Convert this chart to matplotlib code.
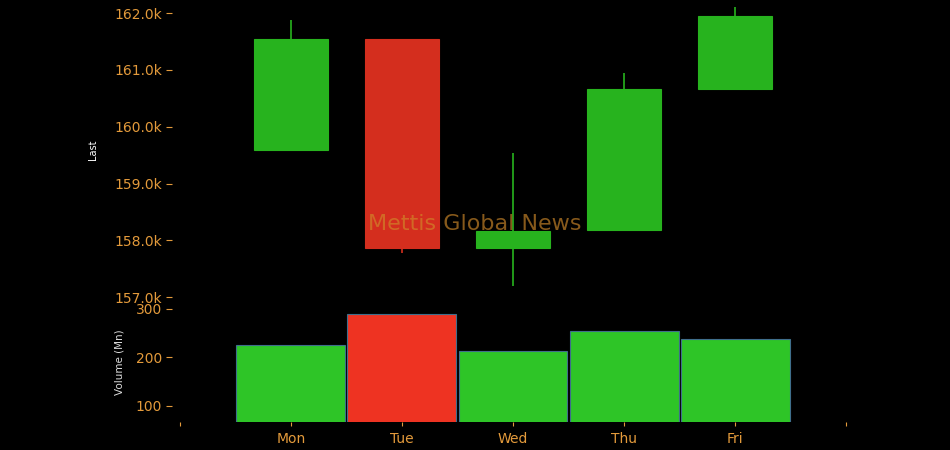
import numpy as np
import matplotlib.pyplot as plt

# Daily OHLC (price in thousands) and volume (Mn)
days = ['Mon', 'Tue', 'Wed', 'Thu', 'Fri']
opens = [159.59, 161.54, 157.86, 158.18, 160.66]
highs = [161.88, 161.54, 159.54, 160.94, 162.11]
lows = [159.59, 157.77, 157.19, 158.18, 160.66]
closes = [161.54, 157.86, 158.16, 160.66, 161.95]
volume = [225, 289, 214, 254, 237]

bg = 'black'
tick_col = '#E39A3B'
up_col, down_col = '#27B31E', '#D42E1E'
vup_col, vdown_col = '#2EC527', '#EE3322'

fig = plt.figure(figsize=(9.5, 4.5), dpi=100, facecolor=bg)
ax_p = fig.add_axes([172 / 950, 150 / 450, 682 / 950, 300 / 450], facecolor=bg)
ax_v = fig.add_axes([172 / 950, 28 / 450, 682 / 950, 120 / 450], facecolor=bg, sharex=ax_p)

x = np.arange(len(days))
o, h, l, c = map(np.array, (opens, highs, lows, closes))
colors = [up_col if cc >= oo else down_col for oo, cc in zip(o, c)]

# candles
ax_p.vlines(x, l, h, colors=colors, linewidth=1.2, zorder=2)
ax_p.bar(x, np.abs(c - o), bottom=np.minimum(o, c), width=0.66,
         color=colors, edgecolor=colors, linewidth=0.8, zorder=3)
ax_p.set_ylim(156.95, 162.23)
ax_p.set_yticks([157, 158, 159, 160, 161, 162])
ax_p.set_yticklabels([f'{v:.1f}k' for v in [157, 158, 159, 160, 161, 162]])
ax_p.set_ylabel('Last', color='white', fontsize=7, labelpad=12)

# volume bars
vcolors = [vup_col if cc >= oo else vdown_col for oo, cc in zip(o, c)]
ax_v.bar(x, volume, width=0.98, color=vcolors, edgecolor='#3F6E8C', linewidth=0.8)
ax_v.set_ylim(67, 314)
ax_v.set_yticks([100, 200, 300])
ax_v.set_ylabel('Volume (Mn)', color='#DDDDDD', fontsize=7.5, labelpad=8)

ax_v.set_xlim(-1.07, 5.07)
ax_v.set_xticks(np.arange(-1, 6))
ax_v.set_xticklabels([''] + days + [''])

for ax in (ax_p, ax_v):
    for s in ax.spines.values():
        s.set_visible(False)
    ax.tick_params(axis='y', colors=tick_col, labelsize=10, length=4, width=0.8, pad=3)
    ax.tick_params(axis='x', colors=tick_col, labelsize=10, length=3, width=0.8, pad=4)
ax_p.tick_params(axis='x', bottom=False, labelbottom=False)

# watermark
fig.text(0.5, 0.502, 'Mettis Global News', color='#D08A2A', alpha=0.65,
         fontsize=16, ha='center', va='center')

fig.savefig('out.png', dpi=100, facecolor=bg)
